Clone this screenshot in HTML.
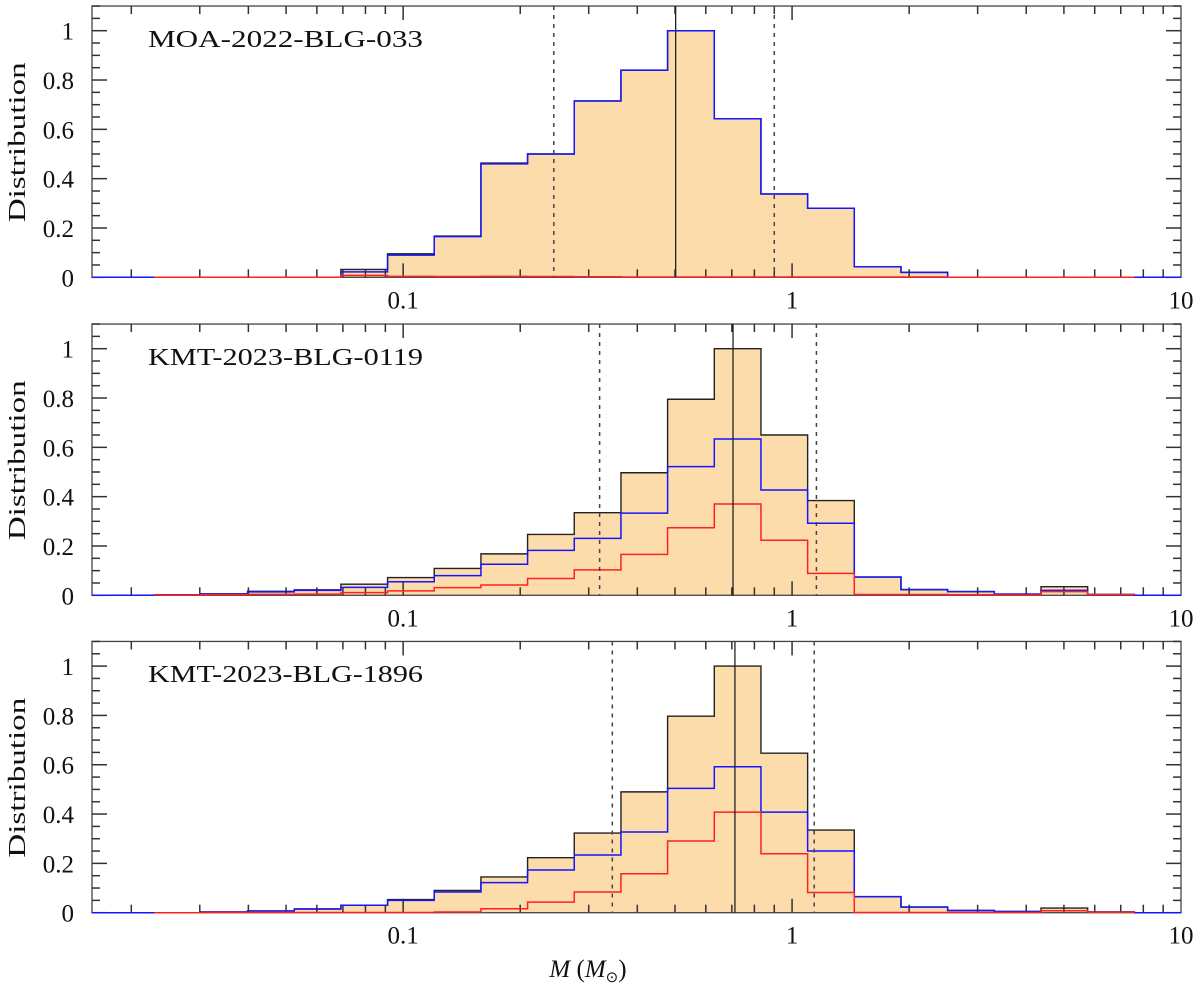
<!DOCTYPE html>
<html><head><meta charset="utf-8"><style>
html,body{margin:0;padding:0;background:#fff;}
svg{display:block;font-family:"Liberation Serif",serif;}
</style></head><body>
<svg id="chart" width="1200" height="992" viewBox="0 0 1200 992" xmlns="http://www.w3.org/2000/svg"></svg>
<script>
// ---- data ----
const binMassEdges = [0.02291,0.03020,0.03981,0.05248,0.06918,0.09120,0.1202,0.1585,0.2089,0.2754,0.3631,0.4786,0.6310,0.8318,1.0965,1.4454,1.9055,2.5119,3.3113,4.3652,5.7544,7.5858];
const panelNames = ["MOA-2022-BLG-033","KMT-2023-BLG-0119","KMT-2023-BLG-1896"];
const totalP1 = [0,0,0,0,0.032,0.095,0.167,0.463,0.50,0.715,0.84,1.0,0.643,0.338,0.28,0.043,0.02,0,0,0,0];
const blueP1  = [0,0,0,0,0.022,0.09,0.165,0.46,0.50,0.715,0.84,1.0,0.643,0.338,0.28,0.043,0.02,0,0,0,0];
const redP1   = [0,0,0,0,0.008,0.004,0.003,0.004,0.003,0.002,0.001,0.001,0.001,0.001,0.001,0.001,0.001,0,0,0,0];
const totalP2 = [0.002,0.006,0.016,0.022,0.045,0.072,0.109,0.168,0.247,0.335,0.497,0.795,1.0,0.65,0.384,0.074,0.023,0.015,0.005,0.035,0.003];
const blueP2  = [0.002,0.005,0.014,0.02,0.032,0.055,0.08,0.126,0.182,0.231,0.333,0.522,0.634,0.427,0.292,0.074,0.023,0.015,0.005,0.02,0.003];
const redP2   = [0.001,0.002,0.004,0.005,0.011,0.018,0.031,0.042,0.068,0.103,0.166,0.274,0.37,0.223,0.089,0.003,0.003,0.002,0.001,0.015,0.003];
const totalP3 = [0,0.003,0.007,0.015,0.03,0.053,0.09,0.145,0.223,0.323,0.49,0.797,1.0,0.647,0.335,0.065,0.023,0.009,0.005,0.019,0.003];
const blueP3  = [0,0.003,0.007,0.015,0.03,0.05,0.084,0.122,0.173,0.234,0.327,0.504,0.592,0.408,0.25,0.065,0.023,0.009,0.005,0.008,0.003];
const redP3   = [0,0.001,0.001,0.001,0.001,0.001,0.003,0.016,0.043,0.084,0.158,0.291,0.408,0.239,0.082,0.001,0.001,0.001,0.001,0.008,0.002];
const medianMass = [0.502,0.705,0.713];
const lowerMass  = [0.244,0.32,0.345];
const upperMass  = [0.90,1.155,1.14];
const yTickLabels = ["0","0.2","0.4","0.6","0.8","1"];
const xTickLabels = ["0.1","1","10"];

// ---- layout ----
const svg = document.getElementById('chart');
const NS = "http://www.w3.org/2000/svg";
const X0 = 92, X1 = 1181, LMIN = -1.8, LMAX = 1;
const zeros = [277.3, 595.3, 912.7];
const YS = 246.6;
function xs(m){ return X0 + (Math.log10(m) - LMIN) / (LMAX - LMIN) * (X1 - X0); }
function mk(tag, attrs, parent){
  const e = document.createElementNS(NS, tag);
  for (const k in attrs) e.setAttribute(k, attrs[k]);
  (parent || svg).appendChild(e);
  return e;
}
function stepPath(vals, ys, full){
  let d = "";
  if (full) d += "M" + X0 + "," + ys(0) + " L" + xs(binMassEdges[0]) + "," + ys(0);
  else d += "M" + xs(binMassEdges[0]) + "," + ys(0);
  for (let i = 0; i < vals.length; i++){
    d += " L" + xs(binMassEdges[i]) + "," + ys(vals[i]) + " L" + xs(binMassEdges[i+1]) + "," + ys(vals[i]);
  }
  d += " L" + xs(binMassEdges[vals.length]) + "," + ys(0);
  if (full) d += " L" + X1 + "," + ys(0);
  return d;
}
const totals = [totalP1, totalP2, totalP3];
const blues = [blueP1, blueP2, blueP3];
const reds = [redP1, redP2, redP3];

for (let p = 0; p < 3; p++){
  const z = zeros[p];
  const ys = v => z - v * YS;
  const top = ys(1.1);
  const g = mk('g', {});
  
  

  const fill = mk('path', {d: stepPath(totals[p], ys, false) + " Z", fill: "#fddcac", stroke: "none"}, g);
  
  

  // frame (under series)
  const fr = mk('rect', {x: X0, y: top, width: X1 - X0, height: z - top, fill: "none", stroke: "#444", "stroke-width": 1.3}, g);
  
  

  // x ticks
  for (let dec = -2; dec <= 0; dec++){
    for (let k = 1; k <= 9; k++){
      const m = k * Math.pow(10, dec);
      const lg = Math.log10(m);
      if (lg < LMIN - 1e-9 || lg > LMAX + 1e-9) continue;
      const x = xs(m), len = (k === 1) ? 14 : 8;
      mk('line', {x1: x, x2: x, y1: z, y2: z - len, stroke: "#333", "stroke-width": 1.5}, g);
      mk('line', {x1: x, x2: x, y1: top, y2: top + len, stroke: "#333", "stroke-width": 1.5}, g);
    }
  }
  // y ticks
  for (let i = 0; i <= 22; i++){
    const v = i * 0.05, y = ys(v), len = (i % 4 === 0) ? 15 : 8;
    mk('line', {x1: X0, x2: X0 + len, y1: y, y2: y, stroke: "#333", "stroke-width": 1.5}, g);
    mk('line', {x1: X1, x2: X1 - len, y1: y, y2: y, stroke: "#333", "stroke-width": 1.5}, g);
  }

  const blk = mk('path', {d: stepPath(totals[p], ys, false), fill: "none", stroke: "#222", "stroke-width": 1.4}, g);
  
  
  const blu = mk('path', {d: stepPath(blues[p], ys, true), fill: "none", stroke: "#1515ff", "stroke-width": 1.5}, g);
  
  
  const rd = mk('path', {d: stepPath(reds[p], ys, false), fill: "none", stroke: "#ff2020", "stroke-width": 1.5}, g);
  
  

  const med = mk('line', {x1: xs(medianMass[p]), x2: xs(medianMass[p]), y1: top, y2: z, stroke: "#222", "stroke-width": 1.3}, g);
  
  
  [lowerMass[p], upperMass[p]].forEach((m, i) => {
    const l = mk('line', {x1: xs(m), x2: xs(m), y1: top, y2: z, stroke: "#444", "stroke-width": 1.5, "stroke-dasharray": "4,5"}, g);
    
    
  });

  yTickLabels.forEach((t, i) => {
    const tx = mk('text', {x: 74, y: ys(i * 0.2) + 9, "text-anchor": "end", "font-size": 25, fill: "#111"}, g);
    tx.textContent = t;
    
    
  });
  xTickLabels.forEach(t => {
    const tx = mk('text', {x: xs(parseFloat(t)), y: z + 31, "text-anchor": "middle", "font-size": 25, fill: "#111"}, g);
    tx.textContent = t;
    
    
  });
  const nm = mk('text', {x: 148, y: z - 230.5, "font-size": 24, fill: "#111", textLength: 275, lengthAdjust: "spacingAndGlyphs"}, g);
  nm.textContent = panelNames[p];
  
  
  const yl = mk('text', {x: 0, y: 0, transform: "translate(25," + (z - 135) + ") rotate(-90)", "text-anchor": "middle", "font-size": 24, fill: "#111", textLength: 160, lengthAdjust: "spacingAndGlyphs"}, g);
  yl.textContent = "Distribution";
  
  
}
const xt = mk('text', {x: 588, y: 977, "text-anchor": "middle", "font-size": 25, fill: "#111"});
xt.innerHTML = '<tspan font-style="italic">M</tspan>  (<tspan font-style="italic">M</tspan><tspan font-size="15" dy="5">⊙</tspan><tspan dy="-5">)</tspan>';


</script>
</body></html>
